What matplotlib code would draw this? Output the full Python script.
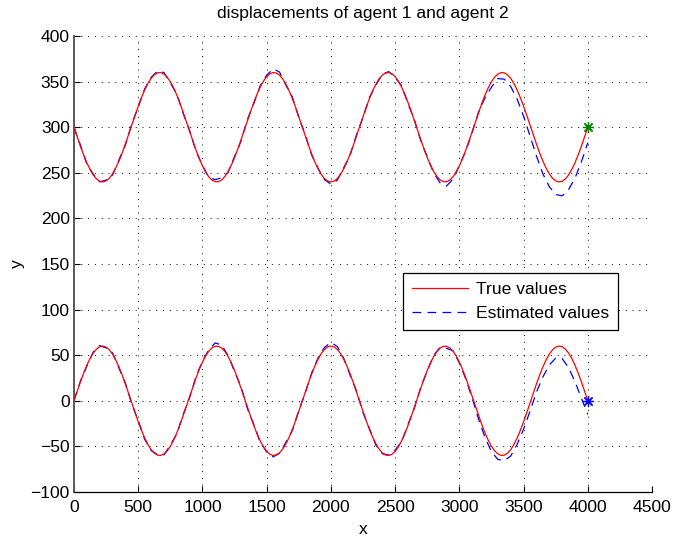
import matplotlib
matplotlib.use("Agg")
import matplotlib.pyplot as plt

plt.rcParams['font.family'] = ['Liberation Sans', 'DejaVu Sans']

# true trajectories are sampled every 25 units along x
x_true = list(range(0, 4001, 25))
# estimates are sampled every 50 units along x
x_est = list(range(0, 4001, 50))

agent1_true = [
    300.0, 289.5, 279.2, 269.7, 261.0, 253.6, 247.6, 243.3, 240.7, 240.0,
    241.2, 244.1, 248.8, 255.2, 262.9, 271.7, 281.5, 291.8, 302.4, 312.9,
    323.0, 332.3, 340.7, 347.8, 353.5, 357.4, 359.6, 359.9, 358.3, 355.0,
    349.9, 343.3, 335.3, 326.2, 316.3, 305.9, 295.3, 284.9, 274.9, 265.7,
    257.6, 250.8, 245.5, 241.9, 240.2, 240.3, 242.2, 246.0, 251.5, 258.4,
    266.7, 276.0, 286.0, 296.5, 307.1, 317.4, 327.2, 336.2, 344.1, 350.5,
    355.4, 358.6, 360.0, 359.4, 357.1, 352.9, 347.1, 339.9, 331.4, 321.9,
    311.7, 301.2, 290.6, 280.3, 270.7, 261.9, 254.4, 248.2, 243.7, 240.9,
    240.0, 240.9, 243.7, 248.2, 254.4, 261.9, 270.7, 280.3, 290.6, 301.2,
    311.7, 321.9, 331.4, 339.9, 347.1, 352.9, 357.1, 359.4, 360.0, 358.6,
    355.4, 350.5, 344.1, 336.2, 327.2, 317.4, 307.1, 296.5, 286.0, 276.0,
    266.7, 258.4, 251.5, 246.0, 242.2, 240.3, 240.2, 241.9, 245.5, 250.8,
    257.6, 265.7, 274.9, 284.9, 295.3, 305.9, 316.3, 326.2, 335.3, 343.3,
    349.9, 355.0, 358.3, 359.9, 359.6, 357.4, 353.5, 347.8, 340.7, 332.3,
    323.0, 312.9, 302.4, 291.8, 281.5, 271.7, 262.9, 255.2, 248.8, 244.1,
    241.2, 240.0, 240.7, 243.3, 247.6, 253.6, 261.0, 269.7, 279.2, 289.5,
    300.0,
]
agent1_est = [
    300.0, 280.5, 259.5, 248.5, 240.0, 242.0, 247.5, 264.0, 280.5, 303.5,
    322.0, 342.0, 354.5, 361.5, 360.0, 348.5, 336.5, 315.0, 296.5, 273.5,
    258.5, 244.5, 242.5, 244.5, 250.5, 268.0, 284.5, 308.5, 326.0, 345.5,
    357.0, 364.0, 360.5, 346.0, 333.0, 310.5, 292.0, 269.5, 255.0, 242.5,
    237.5, 242.0, 255.5, 269.5, 292.0, 310.5, 332.5, 346.0, 358.0, 361.0,
    354.5, 345.5, 326.0, 308.0, 285.0, 267.5, 250.0, 239.0, 235.5, 243.0,
    258.0, 274.0, 294.3, 317.0, 332.3, 343.9, 353.3, 352.6, 344.5, 330.7,
    312.0, 290.4, 268.5, 248.9, 234.8, 226.2, 224.7, 231.6, 244.0, 262.2,
    283.0,
]

agent2_true = [
    0.0, 10.5, 20.8, 30.3, 39.0, 46.4, 52.4, 56.7, 59.3, 60.0,
    58.8, 55.9, 51.2, 44.8, 37.1, 28.3, 18.5, 8.2, -2.4, -12.9,
    -23.0, -32.3, -40.7, -47.8, -53.5, -57.4, -59.6, -59.9, -58.3, -55.0,
    -49.9, -43.3, -35.3, -26.2, -16.3, -5.9, 4.7, 15.1, 25.1, 34.3,
    42.4, 49.2, 54.5, 58.1, 59.8, 59.7, 57.8, 54.0, 48.5, 41.6,
    33.3, 24.0, 14.0, 3.5, -7.1, -17.4, -27.2, -36.2, -44.1, -50.5,
    -55.4, -58.6, -60.0, -59.4, -57.1, -52.9, -47.1, -39.9, -31.4, -21.9,
    -11.7, -1.2, 9.4, 19.7, 29.3, 38.1, 45.6, 51.8, 56.3, 59.1,
    60.0, 59.1, 56.3, 51.8, 45.6, 38.1, 29.3, 19.7, 9.4, -1.2,
    -11.7, -21.9, -31.4, -39.9, -47.1, -52.9, -57.1, -59.4, -60.0, -58.6,
    -55.4, -50.5, -44.1, -36.2, -27.2, -17.4, -7.1, 3.5, 14.0, 24.0,
    33.3, 41.6, 48.5, 54.0, 57.8, 59.7, 59.8, 58.1, 54.5, 49.2,
    42.4, 34.3, 25.1, 15.1, 4.7, -5.9, -16.3, -26.2, -35.3, -43.3,
    -49.9, -55.0, -58.3, -59.9, -59.6, -57.4, -53.5, -47.8, -40.7, -32.3,
    -23.0, -12.9, -2.4, 8.2, 18.5, 28.3, 37.1, 44.8, 51.2, 55.9,
    58.8, 60.0, 59.3, 56.7, 52.4, 46.4, 39.0, 30.3, 20.8, 10.5,
    0.0,
]
agent2_est = [
    0.5, 21.5, 38.0, 53.5, 60.5, 58.0, 52.5, 36.0, 19.5, -3.5,
    -21.5, -42.0, -54.5, -59.0, -59.5, -48.5, -36.5, -15.0, 3.5, 26.5,
    43.5, 56.0, 63.5, 61.0, 49.5, 32.0, 15.5, -8.5, -26.0, -45.5,
    -56.0, -61.5, -57.5, -45.5, -32.5, -10.5, 8.5, 30.5, 47.0, 58.5,
    64.0, 59.5, 46.5, 28.0, 10.5, -13.0, -30.5, -48.5, -58.0, -59.5,
    -54.0, -45.0, -26.0, -8.0, 15.0, 32.5, 50.0, 58.5, 57.5, 55.0,
    41.5, 24.0, 2.7, -20.3, -40.3, -55.9, -64.3, -65.6, -60.5, -47.7,
    -31.0, -11.4, 9.5, 26.1, 39.2, 46.8, 46.3, 36.4, 21.0, 2.8,
    -15.0,
]

# final positions of the two agents
end_x = [4000, 4000]
end_y = [300, 0]

x_ticks = list(range(0, 4501, 500))
y_ticks = list(range(-100, 401, 50))

FS = 12.6

fig = plt.figure(figsize=(6.75, 5.38), dpi=100)
ax = fig.add_axes([0.1096, 0.0855, 0.8564, 0.8476])

dash = (0, (7, 5))
est1, = ax.plot(x_est, agent1_est, color='blue', lw=0.9, linestyle=dash, zorder=2)
ax.plot(x_est, agent2_est, color='blue', lw=0.9, linestyle=dash, zorder=2)
true1, = ax.plot(x_true, agent1_true, color='red', lw=0.9, zorder=3)
ax.plot(x_true, agent2_true, color='red', lw=0.9, zorder=3)

asterisk = (8, 2, 0)
ax.plot(end_x[0], end_y[0], marker=asterisk, color='green', markersize=8,
        markeredgewidth=0.9, zorder=4)
ax.plot(end_x[1], end_y[1], marker=asterisk, color='blue', markersize=8,
        markeredgewidth=0.9, zorder=4)

ax.set_xlim(0, 4500)
ax.set_ylim(-100, 400)
ax.set_xticks(x_ticks)
ax.set_yticks(y_ticks)

ax.grid(True, color='black', linestyle=(0, (1, 6)), linewidth=0.7)
ax.set_axisbelow(True)

for side in ('top', 'right'):
    ax.spines[side].set_visible(False)
ax.spines['bottom'].set_linewidth(0.9)
ax.spines['left'].set_linewidth(1.4)
ax.spines['left'].set_color('0.35')

ax.tick_params(direction='in', length=4, width=0.8, labelsize=FS,
               top=False, right=False)
ax.tick_params(axis='x', pad=6)
ax.tick_params(axis='y', pad=3)

ax.set_title('displacements of agent 1 and agent 2', fontsize=FS, pad=13)
ax.set_xlabel('x', fontsize=FS, labelpad=5)
ax.set_ylabel('y', fontsize=FS, labelpad=4)

leg = ax.legend([true1, est1], ['True values', 'Estimated values'],
                loc='upper left', bbox_to_anchor=(0.569, 0.48),
                fontsize=FS, fancybox=False, edgecolor='black',
                framealpha=1, handlelength=3.2, borderpad=0.5,
                labelspacing=0.5, handletextpad=0.5, borderaxespad=0)
leg.get_frame().set_linewidth(0.9)

fig.savefig('out.png', dpi=100)
